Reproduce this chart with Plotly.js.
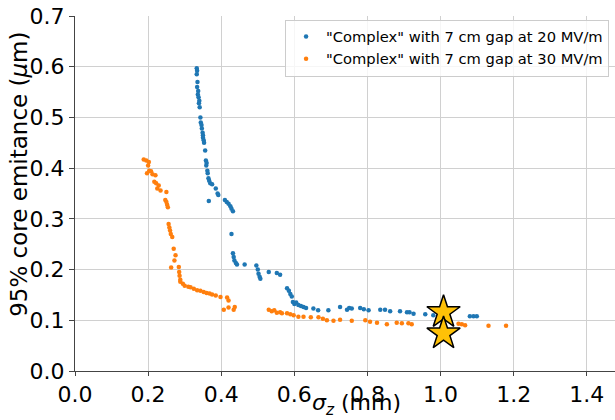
<!DOCTYPE html>
<html>
<head>
<meta charset="utf-8">
<script src="https://cdn.plot.ly/plotly-3.0.1.min.js"></script>
<style>html,body{margin:0;padding:0;background:#fff}#chart{width:615px;height:420px}</style>
</head>
<body>
<div id="chart"></div>
<script>
var seriesNames = ['"Complex" with 7 cm gap at 20 MV/m', '"Complex" with 7 cm gap at 30 MV/m'];
var xTitle = '<i>σ</i><sub><i>z</i></sub> (mm)';
var yTitle = '95% core emitance (<i>μ</i>m)';

var blueX = [0.333,0.334,0.333,0.335,0.334,0.337,0.336,0.338,0.34,0.339,0.341,0.343,0.344,0.346,0.347,0.349,0.35,0.35,0.352,0.353,0.356,0.358,0.36,0.359,0.362,0.363,0.365,0.367,0.37,0.375,0.366,0.385,0.39,0.392,0.41,0.415,0.42,0.425,0.428,0.432,0.428,0.432,0.434,0.436,0.44,0.443,0.464,0.496,0.5,0.502,0.505,0.507,0.53,0.552,0.561,0.58,0.585,0.589,0.593,0.596,0.6,0.605,0.611,0.618,0.625,0.632,0.652,0.665,0.693,0.725,0.744,0.75,0.757,0.78,0.79,0.803,0.835,0.848,0.862,0.889,0.908,0.915,0.926,0.958,0.98,1.08,1.09,1.099];
var blueY = [0.597,0.592,0.585,0.57,0.56,0.552,0.545,0.54,0.533,0.528,0.52,0.5,0.49,0.485,0.478,0.47,0.465,0.46,0.455,0.45,0.435,0.415,0.41,0.405,0.395,0.39,0.38,0.375,0.37,0.368,0.335,0.36,0.35,0.347,0.337,0.333,0.33,0.325,0.32,0.315,0.27,0.232,0.225,0.218,0.213,0.21,0.21,0.208,0.2,0.192,0.186,0.182,0.195,0.193,0.19,0.163,0.158,0.152,0.147,0.136,0.132,0.135,0.13,0.128,0.126,0.124,0.123,0.12,0.12,0.126,0.121,0.124,0.123,0.124,0.122,0.12,0.121,0.121,0.118,0.118,0.116,0.116,0.113,0.112,0.11,0.108,0.108,0.108];

var orangeX = [0.188,0.195,0.202,0.2,0.197,0.203,0.208,0.212,0.22,0.217,0.222,0.229,0.225,0.234,0.25,0.247,0.25,0.252,0.254,0.256,0.258,0.26,0.262,0.266,0.27,0.275,0.272,0.263,0.284,0.285,0.286,0.288,0.288,0.295,0.3,0.31,0.316,0.325,0.334,0.343,0.352,0.36,0.368,0.375,0.385,0.398,0.416,0.42,0.407,0.42,0.434,0.437,0.53,0.538,0.545,0.552,0.561,0.566,0.58,0.589,0.598,0.611,0.625,0.645,0.666,0.678,0.689,0.707,0.725,0.757,0.794,0.807,0.826,0.853,0.88,0.894,0.912,0.921,1.049,1.058,1.067,1.131,1.179];
var orangeY = [0.417,0.415,0.412,0.405,0.39,0.395,0.394,0.388,0.386,0.373,0.37,0.366,0.36,0.356,0.353,0.337,0.333,0.328,0.323,0.29,0.283,0.277,0.27,0.264,0.241,0.228,0.218,0.204,0.205,0.195,0.188,0.18,0.176,0.172,0.168,0.166,0.165,0.162,0.159,0.158,0.156,0.154,0.153,0.151,0.149,0.146,0.145,0.139,0.121,0.125,0.121,0.126,0.121,0.118,0.12,0.115,0.116,0.114,0.114,0.112,0.11,0.107,0.107,0.106,0.106,0.103,0.1,0.099,0.101,0.099,0.1,0.097,0.095,0.092,0.095,0.094,0.094,0.092,0.093,0.092,0.09,0.089,0.089];

var starX = [1.008, 1.008];
var starY = [0.116, 0.074];

var xTickVals = [0, 0.2, 0.4, 0.6, 0.8, 1.0, 1.2, 1.4];
var yTickVals = [0, 0.1, 0.2, 0.3, 0.4, 0.5, 0.6, 0.7];

var font = 'DejaVu Sans, sans-serif';

var traces = [
  {x: blueX, y: blueY, mode: 'markers', type: 'scatter', name: seriesNames[0],
   marker: {color: '#1f77b4', size: 4.5, line: {width: 0}}},
  {x: orangeX, y: orangeY, mode: 'markers', type: 'scatter', name: seriesNames[1],
   marker: {color: '#ff7f0e', size: 4.5, line: {width: 0}}},
  {x: starX, y: starY, mode: 'markers', type: 'scatter', showlegend: false,
   marker: {symbol: 'star', size: 25, color: '#FFC107', line: {color: '#000', width: 1.5}}}
];

var layout = {
  width: 615, height: 420,
  margin: {l: 75, r: 0, t: 16, b: 49, pad: 0},
  paper_bgcolor: '#fff', plot_bgcolor: '#fff',
  font: {family: font, size: 22, color: '#000'},
  showlegend: true,
  xaxis: {
    range: [0, 1.477], tickvals: xTickVals, tickformat: '.1f',
    showgrid: true, gridcolor: '#d0d0d0', gridwidth: 1, zeroline: false,
    showline: true, linecolor: '#444', linewidth: 1,
    ticks: 'outside', ticklen: 4, tickcolor: '#444',
    tickfont: {size: 22, family: font}
  },
  yaxis: {
    range: [0, 0.7], tickvals: yTickVals, tickformat: '.1f',
    showgrid: true, gridcolor: '#d0d0d0', gridwidth: 1, zeroline: false,
    showline: true, linecolor: '#444', linewidth: 1,
    ticks: 'outside', ticklen: 5, tickcolor: '#444',
    tickfont: {size: 22, family: font}
  },
  annotations: [
    {text: xTitle, xref: 'paper', yref: 'paper', x: 0.521, y: -0.139,
     xanchor: 'center', yanchor: 'bottom', showarrow: false, borderpad: 0, font: {size: 22, family: font}},
    {text: yTitle, xref: 'paper', yref: 'paper', x: -0.104, y: 0.555, textangle: -90,
     xanchor: 'center', yanchor: 'middle', showarrow: false, font: {size: 23, family: font}}
  ],
  legend: {
    x: 0.389, y: 0.99, xanchor: 'left', yanchor: 'top',
    bgcolor: 'rgba(255,255,255,0.8)', bordercolor: '#cccccc', borderwidth: 1,
    font: {size: 14.7, family: font}, itemwidth: 30, tracegroupgap: 0
  }
};

Plotly.newPlot('chart', traces, layout, {staticPlot: true, displayModeBar: false});
</script>
</body>
</html>
